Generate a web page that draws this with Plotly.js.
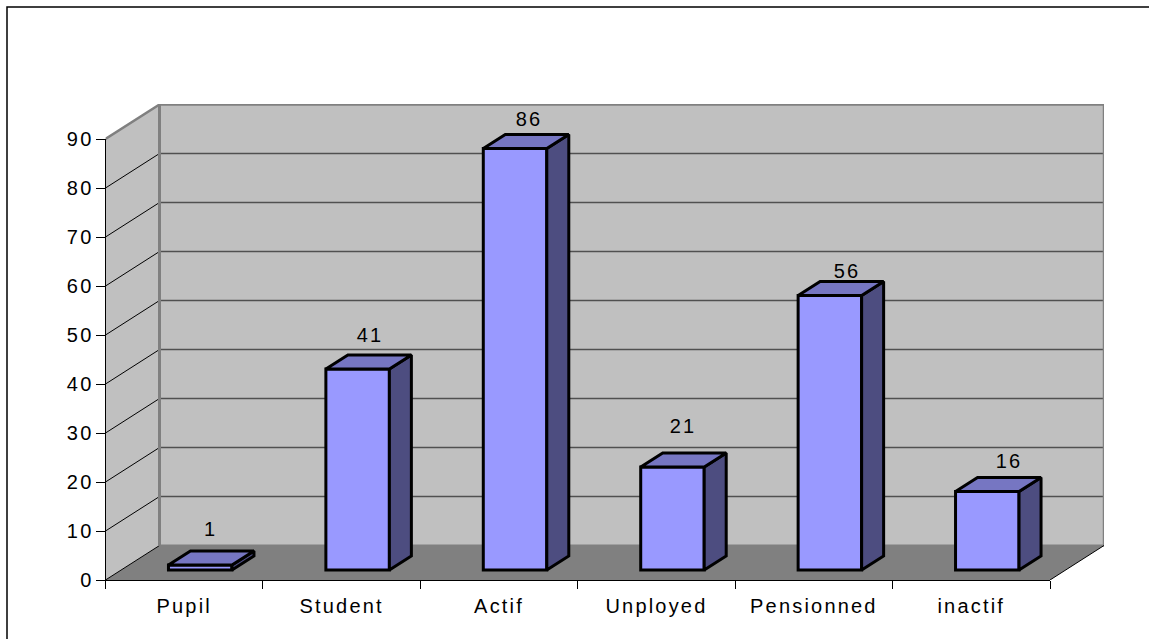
<!DOCTYPE html>
<html>
<head>
<meta charset="utf-8">
<script src="https://cdn.plot.ly/plotly-3.0.1.min.js"></script>
<style>
html,body{margin:0;padding:0;background:#fff;}
#chart text{letter-spacing:2.2px;}
</style>
</head>
<body>
<div id="chart" style="width:1149px;height:639px;"></div>
<script>
const categories = ["Pupil","Student","Actif","Unployed","Pensionned","inactif"];
const values = [1,41,86,21,56,16];
const yTicks = [0,10,20,30,40,50,60,70,80,90];
const labelNudgeX = [10,12,14,11,17,22];
const labelRaise = [36,34,30,41,25,31];

const W = 1149, H = 639;
const colFront = "#9999FF", colTop = "#7676C2", colSide = "#4D4D80";
const colWall = "#C0C0C0", colFloor = "#808080";

// Oblique projection, expressed in axis units
const L = 105.5, R = 1050, B = 580, T = 139, BACKR = 1104, BACKT = 104;
const pxX = (R - L) / categories.length, pxY = (B - T) / 90;
const wallDX = (BACKR - R) / pxX, wallDY = (B - 545.5) / pxY;
const xMaxFull = (BACKR - L) / pxX, yMaxFull = (B - BACKT) / pxY;
const barDX = 22 / pxX, barDY = 14 / pxY;
const barW = 63.5 / pxX, liftX = 16 / pxX, liftY = 10 / pxY;
const n = categories.length;

const traces = [];
const poly = (xs, ys, fill, line, lw, ax, ay) => traces.push({
  type:"scatter", mode: lw ? "lines" : "none", x:xs, y:ys, xaxis:ax, yaxis:ay,
  fill: fill ? "toself" : "none", fillcolor: fill || undefined,
  line:{color:line||"rgba(0,0,0,0)", width:lw||0, shape:"linear"},
  hoverinfo:"skip", showlegend:false, cliponaxis:false
});

// Walls and floor
poly([0,wallDX,wallDX,0,0],[0,wallDY,90+wallDY,90,0], colWall, null, 0, "x","y");
poly([wallDX,n+wallDX,n+wallDX,wallDX,wallDX],[wallDY,wallDY,90+wallDY,90+wallDY,wallDY], colWall, null, 0, "x","y");
poly([0,n,n+wallDX,wallDX,0],[0,0,wallDY,wallDY,0], colFloor, null, 0, "x","y");

// Gridlines
yTicks.slice(1,-1).forEach(v => {
  poly([wallDX,n+wallDX],[v+wallDY,v+wallDY], null, "#505050", 1.5, "x","y");
});
yTicks.slice(0,-1).forEach(v => {
  poly([0,wallDX],[v,v+wallDY], null, "#000000", 1, "x","y");
});
// Wall edges
poly([0,wallDX,n+wallDX,n+wallDX],[90,90+wallDY,90+wallDY,wallDY], null, "#808080", 2.5, "x","y");
poly([wallDX,wallDX],[wallDY,90+wallDY], null, "#808080", 3, "x","y");
poly([wallDX,n+wallDX],[wallDY,wallDY], null, "#808080", 2, "x","y");
poly([n,n+wallDX],[0,wallDY], null, "#000000", 1, "x","y");

// Invisible trace binds the tick axes
traces.push({type:"scatter",mode:"none",x:[0,n],y:[0,90],xaxis:"x2",yaxis:"y2",hoverinfo:"skip",showlegend:false});

// Bars
const lefts = values.map((v,i) => i + 0.5 + liftX - barW/2);
traces.push({
  type:"bar", x:lefts.map(l => l + barW/2), y:values, base:values.map(()=>liftY), width:barW,
  xaxis:"x3", yaxis:"y3", marker:{color:colFront, line:{color:"#000",width:3}},
  hoverinfo:"skip", showlegend:false, cliponaxis:false
});
values.forEach((v,i) => {
  const l = lefts[i], r = l + barW, b = liftY, t = liftY + v;
  poly([r,r+barDX,r+barDX,r,r],[b,b+barDY,t+barDY,t,b], colSide, "#000", 3, "x3","y3");
  poly([l,r,r+barDX,l+barDX,l],[t,t,t+barDY,t+barDY,t], colTop, "#000", 3, "x3","y3");
});

const domX = [L/W, BACKR/W], domY = [1-B/H, 1-BACKT/H];
const font = {family:"Liberation Sans, Arial, sans-serif", size:20, color:"#000"};
const hidden = {visible:false, fixedrange:true};

const layout = {
  width:W, height:H, autosize:false, margin:{l:0,r:0,t:0,b:0},
  paper_bgcolor:"#fff", plot_bgcolor:"rgba(0,0,0,0)", showlegend:false, bargap:0,
  font:font,
  xaxis:{...hidden, domain:domX, range:[0,xMaxFull], anchor:"y"},
  yaxis:{...hidden, domain:domY, range:[0,yMaxFull], anchor:"x"},
  xaxis3:{...hidden, domain:domX, range:[0,xMaxFull], anchor:"y3"},
  yaxis3:{...hidden, domain:domY, range:[0,yMaxFull], anchor:"x3"},
  xaxis2:{
    domain:[L/W, R/W], range:[0,n], anchor:"y2", showgrid:false, zeroline:false,
    showline:true, linecolor:"#000", linewidth:1,
    tickmode:"array", tickvals:categories.map((c,i)=>i+0.5), ticktext:categories,
    ticks:"outside", ticklen:8, tickcolor:"rgba(0,0,0,0)", tickfont:font, ticklabelstandoff:0,
    minor:{tickmode:"array", tickvals:categories.map((c,i)=>i).concat([n]), ticks:"outside", ticklen:8, tickcolor:"#000", tickwidth:1, showgrid:false}
  },
  yaxis2:{
    domain:[1-B/H, 1-T/H], range:[0,90], anchor:"x2", showgrid:false, zeroline:false,
    showline:true, linecolor:"#000", linewidth:1,
    tickmode:"array", tickvals:yTicks, ticks:"outside", ticklen:9, tickcolor:"#000", tickwidth:1, tickfont:font, ticklabelstandoff:-2
  },
  shapes:[{type:"path", xref:"paper", yref:"paper",
    path:`M ${7/W} 0 L ${7/W} ${1-7/H} L 1 ${1-7/H}`, line:{color:"#000",width:1.5}}],
  annotations: values.map((v,i) => ({
    xref:"x3", yref:"y3", x:lefts[i]+barW/2, y:liftY+v, text:String(v), showarrow:false,
    xshift:labelNudgeX[i], yshift:labelRaise[i], xanchor:"center", yanchor:"middle", font:font
  }))
};
Plotly.newPlot("chart", traces, layout, {displayModeBar:false, staticPlot:true});
</script>
</body>
</html>
